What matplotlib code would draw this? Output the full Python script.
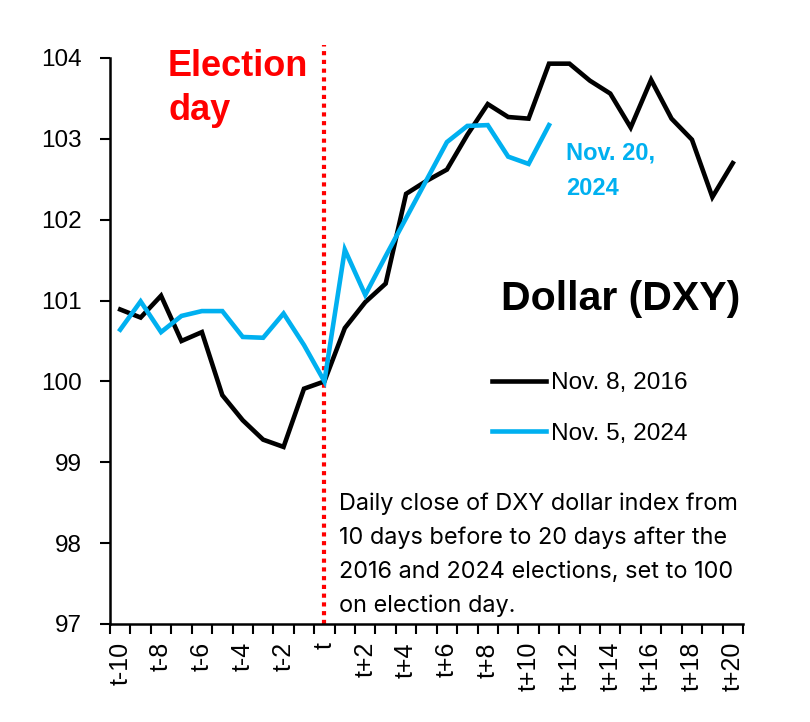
import matplotlib.pyplot as plt
import numpy as np

# day labels, t-10 .. t+20
days = ['t-10', 't-9', 't-8', 't-7', 't-6', 't-5', 't-4', 't-3', 't-2', 't-1', 't',
        't+1', 't+2', 't+3', 't+4', 't+5', 't+6', 't+7', 't+8', 't+9', 't+10',
        't+11', 't+12', 't+13', 't+14', 't+15', 't+16', 't+17', 't+18', 't+19', 't+20']

# DXY, rebased to 100 on election day
dxy_2016 = [100.89, 100.79, 101.06, 100.50, 100.61, 99.83, 99.52, 99.28, 99.19, 99.91,
            100.00, 100.66, 100.98, 101.21, 102.32, 102.48, 102.62, 103.05, 103.43, 103.27,
            103.25, 103.93, 103.93, 103.72, 103.56, 103.14, 103.73, 103.25, 102.99, 102.28,
            102.70]
dxy_2024 = [100.64, 100.99, 100.61, 100.81, 100.87, 100.87, 100.55, 100.54, 100.84, 100.45,
            100.00, 101.63, 101.07, 101.55, 102.02, 102.49, 102.96, 103.16, 103.17, 102.78,
            102.69, 103.17]

yticks = [97, 98, 99, 100, 101, 102, 103, 104]

blue = '#00B0F0'
sans = 'Liberation Sans'

fig = plt.figure(figsize=(8.1, 7.22), dpi=100)
ax = fig.add_axes([110 / 810, 98 / 722, 633 / 810, 566 / 722])

x16 = np.arange(len(dxy_2016))
x24 = np.arange(len(dxy_2024))
ax.plot(x16, dxy_2016, color='black', lw=3.3, solid_joinstyle='miter', label='Nov. 8, 2016')
ax.plot(x24, dxy_2024, color=blue, lw=3.3, solid_joinstyle='miter', label='Nov. 5, 2024')

# election day marker
t0 = days.index('t')
ax.plot([t0, t0], [97, 104.16], color='red', lw=3, ls=(0, (1, 1.1)),
        clip_on=False, zorder=1)

ax.set_xlim(-0.5, len(days) - 0.5)
ax.set_ylim(97, 104)

# ticks at category boundaries, labels at centres (every 2nd)
ax.set_xticks(np.arange(len(days) + 1) - 0.5)
ax.set_xticklabels([])
ax.set_xticks(np.arange(0, len(days), 2), minor=True)
ax.set_xticklabels(days[::2], minor=True, rotation=90, fontsize=18, family=sans)
ax.tick_params(axis='x', which='major', direction='out', length=7, width=1.5)
ax.tick_params(axis='x', which='minor', length=0, pad=13)

ax.set_yticks(yticks)
ax.set_yticklabels([str(v) for v in yticks], fontsize=17.5, family=sans)
ax.tick_params(axis='y', direction='out', length=7, width=1.5, pad=13)

for s in ['top', 'right']:
    ax.spines[s].set_visible(False)
for s in ['left', 'bottom']:
    ax.spines[s].set_linewidth(1.8)

# multi-line texts: y is the baseline of the last line
fig.text(168 / 810, 1 - 120 / 722, 'Election\nday', color='red', fontsize=26,
         fontweight='bold', family=sans, va='baseline', linespacing=1.32)
fig.text(566 / 810, 1 - 195 / 722, 'Nov. 20,\n2024', color=blue, fontsize=17,
         fontweight='bold', family=sans, va='baseline', linespacing=1.72)
fig.text(740 / 810, 1 - 310 / 722, 'Dollar (DXY)', color='black', fontsize=29.5,
         fontweight='bold', family=sans, ha='right', va='baseline')

ax.legend(loc='center left', bbox_to_anchor=((492 - 110) / 633, (624 - 408.5) / 566),
          frameon=False, prop={'family': sans, 'size': 17.6}, handlelength=2.2,
          handletextpad=0.2, labelspacing=1.15, borderaxespad=0, borderpad=0)

fig.text(339 / 810, 1 - 612 / 722,
         'Daily close of DXY dollar index from\n10 days before to 20 days after the\n'
         '2016 and 2024 elections, set to 100\non election day.',
         fontsize=16.9, family='Inter', va='baseline', linespacing=1.68)

fig.savefig('out.png', dpi=100)
